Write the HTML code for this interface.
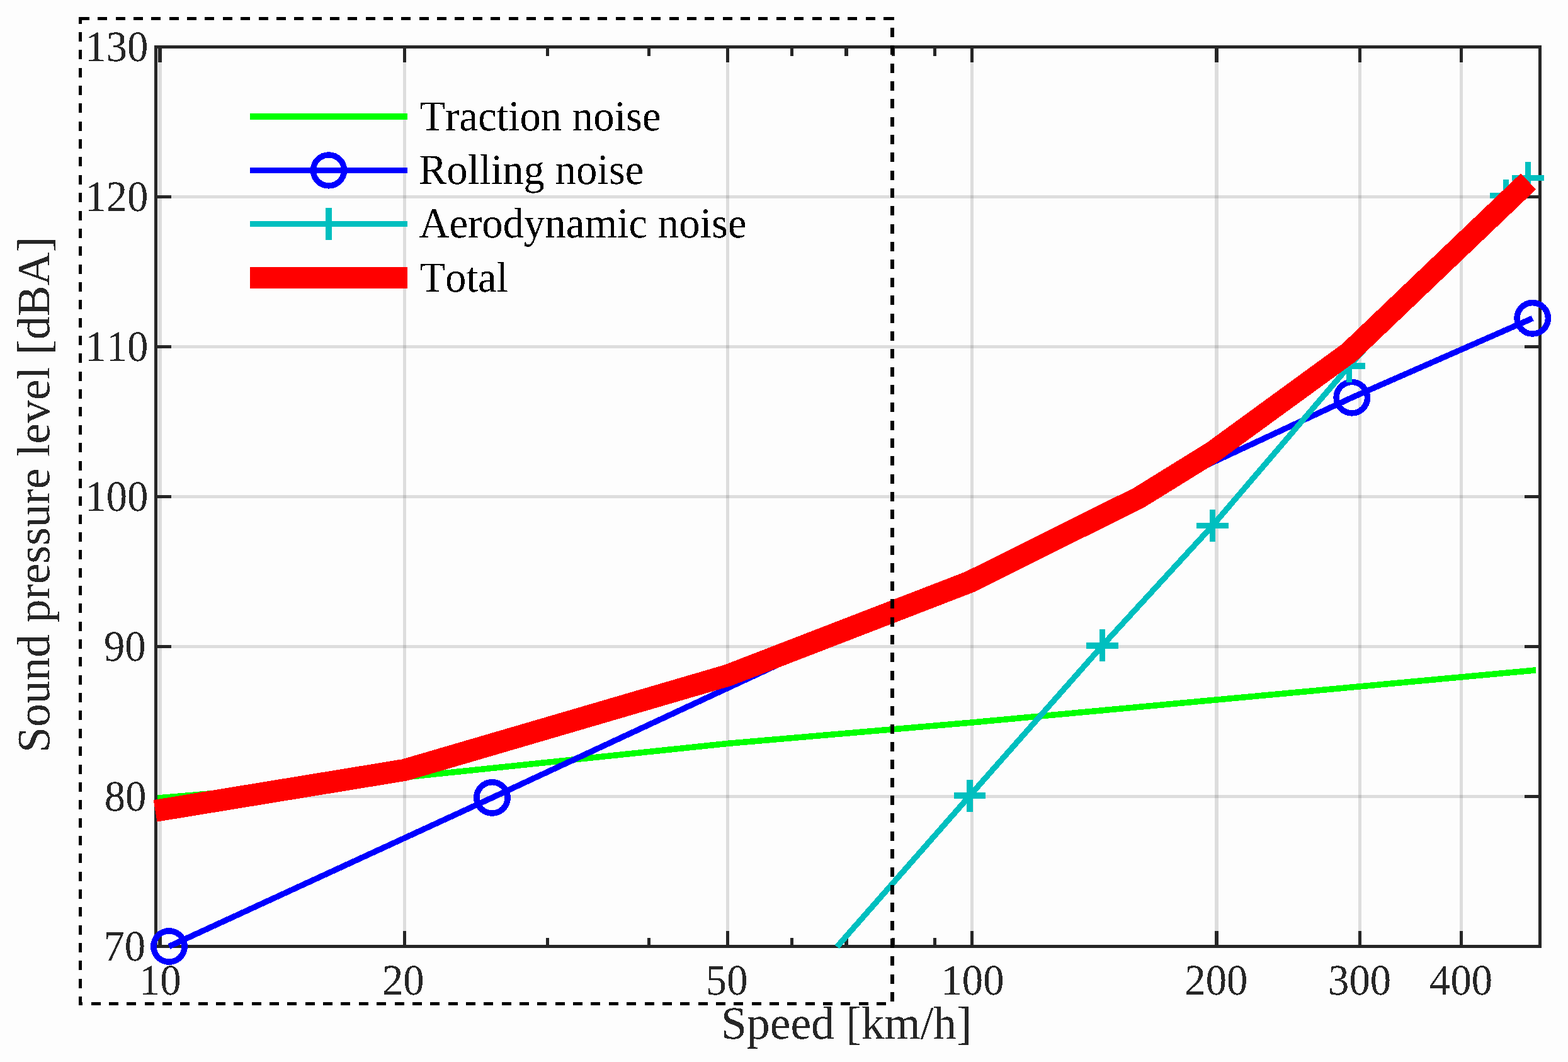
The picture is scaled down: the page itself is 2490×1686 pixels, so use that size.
<!DOCTYPE html>
<html lang="en"><head><meta charset="utf-8"><title>Sound pressure level vs speed</title>
<style>html,body{margin:0;padding:0;background:#fdfdfd;}body{width:2490px;height:1686px;overflow:hidden;}svg{display:block;}text{font-family:"Liberation Serif","Times New Roman",serif;font-kerning:none;font-variant-ligatures:none;text-rendering:geometricPrecision;}</style>
</head><body>
<svg width="2490" height="1686" viewBox="0 0 2490 1686">
<defs><filter id="bin" x="0" y="0" width="2490" height="1686" filterUnits="userSpaceOnUse" color-interpolation-filters="sRGB"><feComponentTransfer><feFuncA type="discrete" tableValues="0 1"/></feComponentTransfer></filter></defs>
<rect x="0" y="0" width="2490" height="1686" fill="#fdfdfd"/>
<g shape-rendering="crispEdges" fill="#262626" fill-opacity="0.15">
<rect x="251" y="77" width="6" height="1423" fill="#262626"/>
<rect x="640" y="77" width="5" height="1423" fill="#262626"/>
<rect x="1153" y="77" width="5" height="1423" fill="#262626"/>
<rect x="1541" y="77" width="5" height="1423" fill="#262626"/>
<rect x="1929" y="77" width="6" height="1423" fill="#262626"/>
<rect x="2157" y="77" width="5" height="1423" fill="#262626"/>
<rect x="2318" y="77" width="5" height="1423" fill="#262626"/>
<rect x="250" y="310" width="2193" height="5" fill="#262626"/>
<rect x="250" y="548" width="2193" height="5" fill="#262626"/>
<rect x="250" y="786" width="2193" height="5" fill="#262626"/>
<rect x="250" y="1024" width="2193" height="5" fill="#262626"/>
<rect x="250" y="1262" width="2193" height="5" fill="#262626"/>
</g>
<g shape-rendering="crispEdges" fill="#262626">
<rect x="245" y="72" width="2203" height="5" fill="#262626"/>
<rect x="245" y="1500" width="2203" height="5" fill="#262626"/>
<rect x="245" y="72" width="5" height="1433" fill="#262626"/>
<rect x="2443" y="72" width="5" height="1433" fill="#262626"/>
<rect x="251" y="77" width="6" height="22" fill="#262626"/>
<rect x="251" y="1478" width="6" height="22" fill="#262626"/>
<rect x="640" y="77" width="5" height="22" fill="#262626"/>
<rect x="640" y="1478" width="5" height="22" fill="#262626"/>
<rect x="1153" y="77" width="5" height="22" fill="#262626"/>
<rect x="1153" y="1478" width="5" height="22" fill="#262626"/>
<rect x="1541" y="77" width="5" height="22" fill="#262626"/>
<rect x="1541" y="1478" width="5" height="22" fill="#262626"/>
<rect x="1929" y="77" width="6" height="22" fill="#262626"/>
<rect x="1929" y="1478" width="6" height="22" fill="#262626"/>
<rect x="2157" y="77" width="5" height="22" fill="#262626"/>
<rect x="2157" y="1478" width="5" height="22" fill="#262626"/>
<rect x="2318" y="77" width="5" height="22" fill="#262626"/>
<rect x="2318" y="1478" width="5" height="22" fill="#262626"/>
<rect x="867" y="77" width="5" height="12" fill="#262626"/>
<rect x="867" y="1489" width="5" height="11" fill="#262626"/>
<rect x="1028" y="77" width="5" height="12" fill="#262626"/>
<rect x="1028" y="1489" width="5" height="11" fill="#262626"/>
<rect x="1255" y="77" width="5" height="12" fill="#262626"/>
<rect x="1255" y="1489" width="5" height="11" fill="#262626"/>
<rect x="1341" y="77" width="6" height="12" fill="#262626"/>
<rect x="1341" y="1489" width="6" height="11" fill="#262626"/>
<rect x="1416" y="77" width="5" height="12" fill="#262626"/>
<rect x="1416" y="1489" width="5" height="11" fill="#262626"/>
<rect x="1482" y="77" width="5" height="12" fill="#262626"/>
<rect x="1482" y="1489" width="5" height="11" fill="#262626"/>
<rect x="250" y="310" width="22" height="5" fill="#262626"/>
<rect x="2421" y="310" width="22" height="5" fill="#262626"/>
<rect x="250" y="548" width="22" height="5" fill="#262626"/>
<rect x="2421" y="548" width="22" height="5" fill="#262626"/>
<rect x="250" y="786" width="22" height="5" fill="#262626"/>
<rect x="2421" y="786" width="22" height="5" fill="#262626"/>
<rect x="250" y="1024" width="22" height="5" fill="#262626"/>
<rect x="2421" y="1024" width="22" height="5" fill="#262626"/>
<rect x="250" y="1262" width="22" height="5" fill="#262626"/>
<rect x="2421" y="1262" width="22" height="5" fill="#262626"/>
</g>
<g fill="#262626" font-size="66.67px" filter="url(#bin)">
<text transform="translate(135.3,97.35) scale(1,1.034)">130</text>
<text transform="translate(135.3,335.35) scale(1,1.034)">120</text>
<text transform="translate(135.3,573.35) scale(1,1.034)">110</text>
<text transform="translate(135.3,811.35) scale(1,1.034)">100</text>
<text transform="translate(164.9,1049.35) scale(1,1.034)">90</text>
<text transform="translate(165.7,1287.35) scale(1,1.034)">80</text>
<text transform="translate(164.5,1525.35) scale(1,1.034)">70</text>
<text transform="translate(220.8,1579.3) scale(1,1.034)">10</text>
<text transform="translate(606.9,1579.3) scale(1,1.034)">20</text>
<text transform="translate(1120.85,1579.3) scale(1,1.034)">50</text>
<text transform="translate(1494.5,1579.3) scale(1,1.034)">100</text>
<text transform="translate(1881.3,1579.3) scale(1,1.034)">200</text>
<text transform="translate(2109.1,1579.3) scale(1,1.034)">300</text>
<text transform="translate(2270.1,1579.3) scale(1,1.034)">400</text>
</g>
<g fill="#262626" font-size="73.55px" filter="url(#bin)">
<text x="1145.1" y="1649">Speed [km/h]</text>
<text transform="translate(78.3,1194.8) rotate(-90)">Sound pressure level [dBA]</text>
</g>
<g shape-rendering="crispEdges">
<polyline points="250,1267 642.4,1234 1155.5,1180.4 1543.5,1147 2190,1087 2439,1063.9" fill="none" stroke="#00ff00" stroke-width="9.6" stroke-linejoin="miter" stroke-linecap="butt"/>
<polyline points="268.5,1502.5 781.5,1266.4 2146.8,631.2 2433.7,505.3" fill="none" stroke="#0000ff" stroke-width="9.3" stroke-linejoin="miter" stroke-linecap="butt"/>
<circle cx="268.5" cy="1502.5" r="24.7" fill="none" stroke="#0000ff" stroke-width="9.5"/>
<circle cx="781.5" cy="1266.4" r="24.7" fill="none" stroke="#0000ff" stroke-width="9.5"/>
<circle cx="2146.8" cy="631.2" r="24.7" fill="none" stroke="#0000ff" stroke-width="9.5"/>
<circle cx="2433.7" cy="505.3" r="24.7" fill="none" stroke="#0000ff" stroke-width="9.5"/>
<polyline points="1329.1,1503.1 1540,1263.25 1750.5,1025 1925.5,834.5 2142.5,581 2391.5,310.5 2426.5,282.5" fill="none" stroke="#00bfbf" stroke-width="9.2" stroke-linejoin="miter" stroke-linecap="butt"/>
<rect x="1535" y="1238" width="10" height="51" fill="#00bfbf"/>
<rect x="1515" y="1258" width="50" height="10" fill="#00bfbf"/>
<rect x="1746" y="999" width="9" height="51" fill="#00bfbf"/>
<rect x="1725" y="1020" width="51" height="10" fill="#00bfbf"/>
<rect x="1921" y="809" width="9" height="51" fill="#00bfbf"/>
<rect x="1900" y="830" width="51" height="9" fill="#00bfbf"/>
<rect x="2138" y="556" width="9" height="51" fill="#00bfbf"/>
<rect x="2117" y="576" width="51" height="10" fill="#00bfbf"/>
<rect x="2387" y="285" width="9" height="51" fill="#00bfbf"/>
<rect x="2366" y="306" width="51" height="9" fill="#00bfbf"/>
<rect x="2422" y="257" width="9" height="51" fill="#00bfbf"/>
<rect x="2401" y="278" width="51" height="9" fill="#00bfbf"/>
<polyline points="246.55,1287.35 642.4,1222.45 1155.5,1072.3 1540,923.8 1809,789.9 1925.5,717.8 2142.5,559.7 2427.1,288" fill="none" stroke="#ff0000" stroke-width="35" stroke-linejoin="miter" stroke-linecap="butt"/>
<rect x="397" y="180" width="250" height="10" fill="#00ff00"/>
<rect x="397" y="266" width="250" height="9" fill="#0000ff"/>
<circle cx="522" cy="270.4" r="24.5" fill="none" stroke="#0000ff" stroke-width="9.4"/>
<rect x="397" y="351" width="250" height="9" fill="#00bfbf"/>
<rect x="517" y="330" width="10" height="51" fill="#00bfbf"/>
<rect x="397" y="424" width="250" height="34" fill="#ff0000"/>
</g>
<g fill="#000000" font-size="66.67px" filter="url(#bin)">
<text transform="translate(666.4,206.7) scale(1,1.02)">Traction noise</text>
<text transform="translate(664.9,292) scale(1,1.02)">Rolling noise</text>
<text transform="translate(665.4,377.2) scale(1,1.02)">Aerodynamic noise</text>
<text transform="translate(666.4,462.8) scale(1,1.02)">Total</text>
</g>
<g shape-rendering="crispEdges" fill="#000000">
<rect x="125" y="27" width="17" height="5" fill="#000"/>
<rect x="155" y="27" width="15" height="5" fill="#000"/>
<rect x="184" y="27" width="15" height="5" fill="#000"/>
<rect x="212" y="27" width="15" height="5" fill="#000"/>
<rect x="240" y="27" width="15" height="5" fill="#000"/>
<rect x="269" y="27" width="15" height="5" fill="#000"/>
<rect x="297" y="27" width="15" height="5" fill="#000"/>
<rect x="325" y="27" width="15" height="5" fill="#000"/>
<rect x="354" y="27" width="15" height="5" fill="#000"/>
<rect x="382" y="27" width="15" height="5" fill="#000"/>
<rect x="411" y="27" width="15" height="5" fill="#000"/>
<rect x="439" y="27" width="15" height="5" fill="#000"/>
<rect x="467" y="27" width="15" height="5" fill="#000"/>
<rect x="496" y="27" width="15" height="5" fill="#000"/>
<rect x="524" y="27" width="15" height="5" fill="#000"/>
<rect x="552" y="27" width="15" height="5" fill="#000"/>
<rect x="581" y="27" width="15" height="5" fill="#000"/>
<rect x="609" y="27" width="15" height="5" fill="#000"/>
<rect x="637" y="27" width="15" height="5" fill="#000"/>
<rect x="666" y="27" width="15" height="5" fill="#000"/>
<rect x="694" y="27" width="15" height="5" fill="#000"/>
<rect x="722" y="27" width="15" height="5" fill="#000"/>
<rect x="751" y="27" width="15" height="5" fill="#000"/>
<rect x="779" y="27" width="15" height="5" fill="#000"/>
<rect x="808" y="27" width="15" height="5" fill="#000"/>
<rect x="836" y="27" width="15" height="5" fill="#000"/>
<rect x="864" y="27" width="15" height="5" fill="#000"/>
<rect x="893" y="27" width="15" height="5" fill="#000"/>
<rect x="921" y="27" width="15" height="5" fill="#000"/>
<rect x="949" y="27" width="15" height="5" fill="#000"/>
<rect x="978" y="27" width="15" height="5" fill="#000"/>
<rect x="1006" y="27" width="15" height="5" fill="#000"/>
<rect x="1034" y="27" width="15" height="5" fill="#000"/>
<rect x="1063" y="27" width="15" height="5" fill="#000"/>
<rect x="1091" y="27" width="15" height="5" fill="#000"/>
<rect x="1119" y="27" width="15" height="5" fill="#000"/>
<rect x="1148" y="27" width="15" height="5" fill="#000"/>
<rect x="1176" y="27" width="15" height="5" fill="#000"/>
<rect x="1204" y="27" width="15" height="5" fill="#000"/>
<rect x="1233" y="27" width="15" height="5" fill="#000"/>
<rect x="1261" y="27" width="15" height="5" fill="#000"/>
<rect x="1290" y="27" width="15" height="5" fill="#000"/>
<rect x="1318" y="27" width="15" height="5" fill="#000"/>
<rect x="1346" y="27" width="15" height="5" fill="#000"/>
<rect x="1375" y="27" width="15" height="5" fill="#000"/>
<rect x="1403" y="27" width="17" height="5" fill="#000"/>
<rect x="1414" y="27" width="6" height="3" fill="#000"/>
<rect x="1414" y="44" width="6" height="15" fill="#000"/>
<rect x="1414" y="72" width="6" height="15" fill="#000"/>
<rect x="1414" y="101" width="6" height="15" fill="#000"/>
<rect x="1414" y="129" width="6" height="15" fill="#000"/>
<rect x="1414" y="157" width="6" height="15" fill="#000"/>
<rect x="1414" y="186" width="6" height="15" fill="#000"/>
<rect x="1414" y="214" width="6" height="15" fill="#000"/>
<rect x="1414" y="242" width="6" height="15" fill="#000"/>
<rect x="1414" y="271" width="6" height="15" fill="#000"/>
<rect x="1414" y="299" width="6" height="15" fill="#000"/>
<rect x="1414" y="327" width="6" height="15" fill="#000"/>
<rect x="1414" y="356" width="6" height="15" fill="#000"/>
<rect x="1414" y="384" width="6" height="15" fill="#000"/>
<rect x="1414" y="412" width="6" height="15" fill="#000"/>
<rect x="1414" y="441" width="6" height="15" fill="#000"/>
<rect x="1414" y="469" width="6" height="15" fill="#000"/>
<rect x="1414" y="498" width="6" height="15" fill="#000"/>
<rect x="1414" y="526" width="6" height="15" fill="#000"/>
<rect x="1414" y="554" width="6" height="15" fill="#000"/>
<rect x="1414" y="583" width="6" height="15" fill="#000"/>
<rect x="1414" y="611" width="6" height="15" fill="#000"/>
<rect x="1414" y="639" width="6" height="15" fill="#000"/>
<rect x="1414" y="668" width="6" height="15" fill="#000"/>
<rect x="1414" y="696" width="6" height="15" fill="#000"/>
<rect x="1414" y="724" width="6" height="15" fill="#000"/>
<rect x="1414" y="753" width="6" height="15" fill="#000"/>
<rect x="1414" y="781" width="6" height="15" fill="#000"/>
<rect x="1414" y="809" width="6" height="15" fill="#000"/>
<rect x="1414" y="838" width="6" height="15" fill="#000"/>
<rect x="1414" y="866" width="6" height="15" fill="#000"/>
<rect x="1414" y="894" width="6" height="15" fill="#000"/>
<rect x="1414" y="923" width="6" height="15" fill="#000"/>
<rect x="1414" y="951" width="6" height="15" fill="#000"/>
<rect x="1414" y="980" width="6" height="15" fill="#000"/>
<rect x="1414" y="1008" width="6" height="15" fill="#000"/>
<rect x="1414" y="1036" width="6" height="15" fill="#000"/>
<rect x="1414" y="1065" width="6" height="15" fill="#000"/>
<rect x="1414" y="1093" width="6" height="15" fill="#000"/>
<rect x="1414" y="1121" width="6" height="15" fill="#000"/>
<rect x="1414" y="1150" width="6" height="15" fill="#000"/>
<rect x="1414" y="1178" width="6" height="15" fill="#000"/>
<rect x="1414" y="1206" width="6" height="15" fill="#000"/>
<rect x="1414" y="1235" width="6" height="15" fill="#000"/>
<rect x="1414" y="1263" width="6" height="15" fill="#000"/>
<rect x="1414" y="1291" width="6" height="15" fill="#000"/>
<rect x="1414" y="1320" width="6" height="15" fill="#000"/>
<rect x="1414" y="1348" width="6" height="15" fill="#000"/>
<rect x="1414" y="1377" width="6" height="15" fill="#000"/>
<rect x="1414" y="1405" width="6" height="15" fill="#000"/>
<rect x="1414" y="1433" width="6" height="15" fill="#000"/>
<rect x="1414" y="1462" width="6" height="15" fill="#000"/>
<rect x="1414" y="1490" width="6" height="15" fill="#000"/>
<rect x="1414" y="1518" width="6" height="15" fill="#000"/>
<rect x="1414" y="1547" width="6" height="15" fill="#000"/>
<rect x="1414" y="1575" width="6" height="15" fill="#000"/>
<rect x="1392" y="1591" width="15" height="5" fill="#000"/>
<rect x="1364" y="1591" width="15" height="5" fill="#000"/>
<rect x="1335" y="1591" width="15" height="5" fill="#000"/>
<rect x="1307" y="1591" width="15" height="5" fill="#000"/>
<rect x="1279" y="1591" width="15" height="5" fill="#000"/>
<rect x="1250" y="1591" width="15" height="5" fill="#000"/>
<rect x="1222" y="1591" width="15" height="5" fill="#000"/>
<rect x="1194" y="1591" width="15" height="5" fill="#000"/>
<rect x="1165" y="1591" width="15" height="5" fill="#000"/>
<rect x="1137" y="1591" width="15" height="5" fill="#000"/>
<rect x="1109" y="1591" width="15" height="5" fill="#000"/>
<rect x="1080" y="1591" width="15" height="5" fill="#000"/>
<rect x="1052" y="1591" width="15" height="5" fill="#000"/>
<rect x="1024" y="1591" width="15" height="5" fill="#000"/>
<rect x="995" y="1591" width="15" height="5" fill="#000"/>
<rect x="967" y="1591" width="15" height="5" fill="#000"/>
<rect x="938" y="1591" width="15" height="5" fill="#000"/>
<rect x="910" y="1591" width="15" height="5" fill="#000"/>
<rect x="882" y="1591" width="15" height="5" fill="#000"/>
<rect x="853" y="1591" width="15" height="5" fill="#000"/>
<rect x="825" y="1591" width="15" height="5" fill="#000"/>
<rect x="797" y="1591" width="15" height="5" fill="#000"/>
<rect x="768" y="1591" width="15" height="5" fill="#000"/>
<rect x="740" y="1591" width="15" height="5" fill="#000"/>
<rect x="712" y="1591" width="15" height="5" fill="#000"/>
<rect x="683" y="1591" width="15" height="5" fill="#000"/>
<rect x="655" y="1591" width="15" height="5" fill="#000"/>
<rect x="627" y="1591" width="15" height="5" fill="#000"/>
<rect x="598" y="1591" width="15" height="5" fill="#000"/>
<rect x="570" y="1591" width="15" height="5" fill="#000"/>
<rect x="541" y="1591" width="15" height="5" fill="#000"/>
<rect x="513" y="1591" width="15" height="5" fill="#000"/>
<rect x="485" y="1591" width="15" height="5" fill="#000"/>
<rect x="456" y="1591" width="15" height="5" fill="#000"/>
<rect x="428" y="1591" width="15" height="5" fill="#000"/>
<rect x="400" y="1591" width="15" height="5" fill="#000"/>
<rect x="371" y="1591" width="15" height="5" fill="#000"/>
<rect x="343" y="1591" width="15" height="5" fill="#000"/>
<rect x="315" y="1591" width="15" height="5" fill="#000"/>
<rect x="286" y="1591" width="15" height="5" fill="#000"/>
<rect x="258" y="1591" width="15" height="5" fill="#000"/>
<rect x="230" y="1591" width="15" height="5" fill="#000"/>
<rect x="201" y="1591" width="15" height="5" fill="#000"/>
<rect x="173" y="1591" width="15" height="5" fill="#000"/>
<rect x="145" y="1591" width="15" height="5" fill="#000"/>
<rect x="125" y="1591" width="6" height="5" fill="#000"/>
<rect x="125" y="1582" width="5" height="14" fill="#000"/>
<rect x="125" y="1554" width="5" height="15" fill="#000"/>
<rect x="125" y="1525" width="5" height="15" fill="#000"/>
<rect x="125" y="1497" width="5" height="15" fill="#000"/>
<rect x="125" y="1469" width="5" height="15" fill="#000"/>
<rect x="125" y="1440" width="5" height="15" fill="#000"/>
<rect x="125" y="1412" width="5" height="15" fill="#000"/>
<rect x="125" y="1384" width="5" height="15" fill="#000"/>
<rect x="125" y="1355" width="5" height="15" fill="#000"/>
<rect x="125" y="1327" width="5" height="15" fill="#000"/>
<rect x="125" y="1299" width="5" height="15" fill="#000"/>
<rect x="125" y="1270" width="5" height="15" fill="#000"/>
<rect x="125" y="1242" width="5" height="15" fill="#000"/>
<rect x="125" y="1214" width="5" height="15" fill="#000"/>
<rect x="125" y="1185" width="5" height="15" fill="#000"/>
<rect x="125" y="1157" width="5" height="15" fill="#000"/>
<rect x="125" y="1128" width="5" height="15" fill="#000"/>
<rect x="125" y="1100" width="5" height="15" fill="#000"/>
<rect x="125" y="1072" width="5" height="15" fill="#000"/>
<rect x="125" y="1043" width="5" height="15" fill="#000"/>
<rect x="125" y="1015" width="5" height="15" fill="#000"/>
<rect x="125" y="987" width="5" height="15" fill="#000"/>
<rect x="125" y="958" width="5" height="15" fill="#000"/>
<rect x="125" y="930" width="5" height="15" fill="#000"/>
<rect x="125" y="902" width="5" height="15" fill="#000"/>
<rect x="125" y="873" width="5" height="15" fill="#000"/>
<rect x="125" y="845" width="5" height="15" fill="#000"/>
<rect x="125" y="817" width="5" height="15" fill="#000"/>
<rect x="125" y="788" width="5" height="15" fill="#000"/>
<rect x="125" y="760" width="5" height="15" fill="#000"/>
<rect x="125" y="732" width="5" height="15" fill="#000"/>
<rect x="125" y="703" width="5" height="15" fill="#000"/>
<rect x="125" y="675" width="5" height="15" fill="#000"/>
<rect x="125" y="646" width="5" height="15" fill="#000"/>
<rect x="125" y="618" width="5" height="15" fill="#000"/>
<rect x="125" y="590" width="5" height="15" fill="#000"/>
<rect x="125" y="561" width="5" height="15" fill="#000"/>
<rect x="125" y="533" width="5" height="15" fill="#000"/>
<rect x="125" y="505" width="5" height="15" fill="#000"/>
<rect x="125" y="476" width="5" height="15" fill="#000"/>
<rect x="125" y="448" width="5" height="15" fill="#000"/>
<rect x="125" y="420" width="5" height="15" fill="#000"/>
<rect x="125" y="391" width="5" height="15" fill="#000"/>
<rect x="125" y="363" width="5" height="15" fill="#000"/>
<rect x="125" y="335" width="5" height="15" fill="#000"/>
<rect x="125" y="306" width="5" height="15" fill="#000"/>
<rect x="125" y="278" width="5" height="15" fill="#000"/>
<rect x="125" y="249" width="5" height="15" fill="#000"/>
<rect x="125" y="221" width="5" height="15" fill="#000"/>
<rect x="125" y="193" width="5" height="15" fill="#000"/>
<rect x="125" y="164" width="5" height="15" fill="#000"/>
<rect x="125" y="136" width="5" height="15" fill="#000"/>
<rect x="125" y="108" width="5" height="15" fill="#000"/>
<rect x="125" y="79" width="5" height="15" fill="#000"/>
<rect x="125" y="51" width="5" height="15" fill="#000"/>
<rect x="125" y="27" width="5" height="11" fill="#000"/>
</g>
</svg>
</body></html>
